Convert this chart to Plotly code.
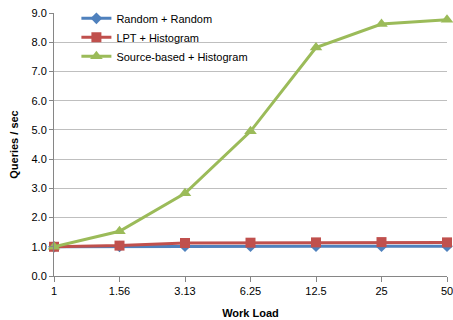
import plotly.graph_objects as go

categories = ["1", "1.56", "3.13", "6.25", "12.5", "25", "50"]
random_random = [1.0, 1.01, 1.02, 1.02, 1.02, 1.02, 1.02]
lpt_histogram = [1.0, 1.04, 1.13, 1.14, 1.15, 1.16, 1.15]
source_histogram = [1.0, 1.53, 2.83, 4.95, 7.82, 8.62, 8.77]
y_ticks = [0, 1, 2, 3, 4, 5, 6, 7, 8, 9]

font = "Liberation Sans"
fig = go.Figure()
fig.add_trace(go.Scatter(x=categories, y=random_random, name="Random + Random",
                         mode="lines+markers", line=dict(color="#4F81BD", width=3),
                         marker=dict(symbol="diamond", size=9, color="#4F81BD"), cliponaxis=False))
fig.add_trace(go.Scatter(x=categories, y=lpt_histogram, name="LPT + Histogram",
                         mode="lines+markers", line=dict(color="#C0504D", width=3),
                         marker=dict(symbol="square", size=10, color="#C0504D"), cliponaxis=False))
fig.add_trace(go.Scatter(x=categories, y=source_histogram, name="Source-based + Histogram",
                         mode="lines+markers", line=dict(color="#9BBB59", width=3),
                         marker=dict(symbol="triangle-up", size=11, color="#9BBB59"), cliponaxis=False))

fig.update_layout(
    width=453, height=320,
    margin=dict(l=54, r=6, t=13, b=44, autoexpand=False),
    paper_bgcolor="white", plot_bgcolor="white",
    font=dict(family=font, size=11, color="black"),
    showlegend=True,
    legend=dict(x=0.057, y=1.035, xanchor="left", yanchor="top", bgcolor="rgba(0,0,0,0)",
                font=dict(size=11), tracegroupgap=0, itemwidth=30),
    xaxis=dict(type="category", range=[0, 6], showgrid=False, showline=True, automargin=False,
               linecolor="#868686", linewidth=1, ticks="outside", ticklen=5, tickcolor="#868686",
               title=dict(text="<b>Work Load</b>", font=dict(size=11), standoff=13),
               tickfont=dict(size=11), ticklabeloverflow="allow"),
    yaxis=dict(range=[0, 9], tickvals=y_ticks, tickformat=".1f", showgrid=True, automargin=False,
               gridcolor="#BFBFBF", gridwidth=1, showline=True, linecolor="#868686",
               ticks="outside", ticklen=4, tickcolor="#868686", zeroline=False,
               title=dict(text="<b>Queries / sec</b>", font=dict(size=11), standoff=10),
               tickfont=dict(size=11), ticklabeloverflow="allow"),
)

# remove the browser's default 8px body margin so the figure fills the window
fig.write_html("out.html", config={"displayModeBar": False},
               post_script="document.body.style.margin='0';document.body.style.overflow='hidden';")
